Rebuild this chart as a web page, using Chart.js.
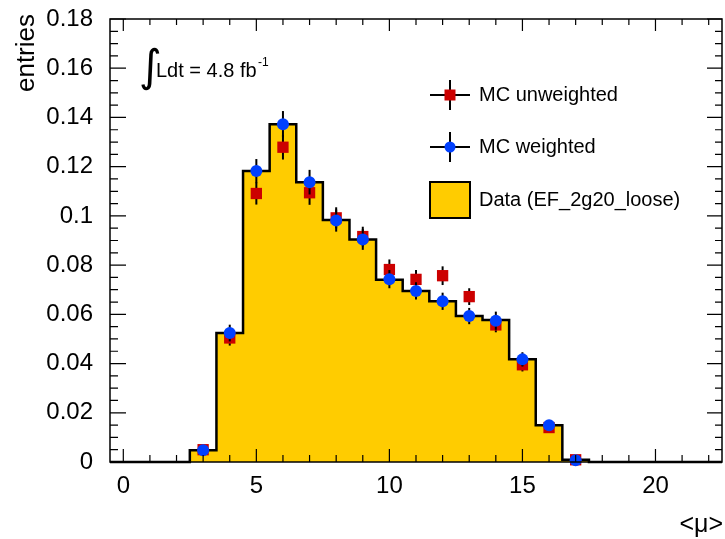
<!DOCTYPE html>
<html>
<head>
<meta charset="utf-8">
<script src="https://cdn.jsdelivr.net/npm/chart.js@4/dist/chart.umd.min.js"></script>
<style>
  body { margin: 0; background: #ffffff; }
  #plot { display: block; }
</style>
</head>
<body>
<canvas id="plot" width="725" height="539"></canvas>
<script>
// histogram bins (centres), width 1
var binCenters = [0, 1, 2, 3, 4, 5, 6, 7, 8, 9, 10, 11, 12, 13, 14, 15, 16, 17, 18, 19, 20, 21, 22];
var dataEntries = [0, 0, 0, 0.0048, 0.0524, 0.1182, 0.1372, 0.1137, 0.0983, 0.0904, 0.0741, 0.0695,
                   0.0653, 0.0593, 0.0577, 0.0417, 0.0149, 0.0009, 0, 0, 0, 0, 0];

// MC points
var mcCenters = [3, 4, 5, 6, 7, 8, 9, 10, 11, 12, 13, 14, 15, 16, 17];
var mcWeighted = [0.0048, 0.0524, 0.1182, 0.1372, 0.1137, 0.0981, 0.0904, 0.0743, 0.0695, 0.0653,
                  0.0593, 0.0574, 0.0417, 0.0149, 0.0007];
var mcWeightedErr = [0.0008, 0.0034, 0.0049, 0.0054, 0.0050, 0.0045, 0.0042, 0.0037, 0.0035, 0.0035,
                     0.0033, 0.0037, 0.0029, 0.0017, 0.0004];
var mcUnweighted = [0.0050, 0.0504, 0.1091, 0.1279, 0.1094, 0.0992, 0.0916, 0.0782, 0.0742, 0.0757,
                    0.0672, 0.0557, 0.0395, 0.0140, 0.0009];
var mcUnweightedErr = [0.0008, 0.0031, 0.0045, 0.0050, 0.0049, 0.0043, 0.0040, 0.0041, 0.0038, 0.0038,
                       0.0034, 0.0030, 0.0027, 0.0016, 0.0004];

var xTickValues = [0, 5, 10, 15, 20];
var legendLabels = ['MC unweighted', 'MC weighted', 'Data (EF_2g20_loose)'];

var FONT = '"Liberation Sans", Arial, Helvetica, sans-serif';
var RED = '#cc0000';
var BLUE = '#0040ff';
var YELLOW = '#ffcc00';

function histOutline(centers, values)
{
  var pts = [];
  for (var i = 0; i < centers.length; i++) {
    pts.push({x: centers[i] - 0.5, y: values[i]});
  }
  var last = centers.length - 1;
  pts.push({x: centers[last] + 0.5, y: values[last]});
  return pts;
}

function points(centers, values)
{
  return centers.map(function(c, i) { return {x: c, y: values[i]}; });
}

var errorBars = {
  id: 'errorBars',
  beforeDatasetDraw: function(chart, args) {
    var ds = chart.data.datasets[args.index];
    if (!ds.errors) return;
    var ctx = chart.ctx;
    var y = chart.scales.y;
    ctx.save();
    ctx.strokeStyle = '#000';
    ctx.lineWidth = 2;
    args.meta.data.forEach(function(pt, i) {
      var v = ds.data[i].y;
      ctx.beginPath();
      ctx.moveTo(pt.x, y.getPixelForValue(v + ds.errors[i]));
      ctx.lineTo(pt.x, y.getPixelForValue(v - ds.errors[i]));
      ctx.stroke();
    });
    ctx.restore();
  }
};

var frameTicks = {
  id: 'frameTicks',
  afterDatasetsDraw: function(chart) {
    var ctx = chart.ctx;
    var a = chart.chartArea;
    var xs = chart.scales.x, ys = chart.scales.y;
    ctx.save();
    ctx.strokeStyle = '#000';
    ctx.lineWidth = 1.5;
    ctx.strokeRect(a.left, a.top, a.right - a.left, a.bottom - a.top);
    ctx.lineWidth = 1.2;
    ctx.beginPath();
    for (var t = 0; t <= 22; t++) {
      var px = xs.getPixelForValue(t);
      var major = (t % 5 === 0);
      ctx.moveTo(px, a.bottom); ctx.lineTo(px, a.bottom - (major ? 13 : 7));
      ctx.moveTo(px, a.top); ctx.lineTo(px, a.top + (major ? 12 : 6));
    }
    for (var k = 0; k <= 36; k++) {
      var py = ys.getPixelForValue(k * 0.005);
      var maj = (k % 4 === 0);
      ctx.moveTo(a.left, py); ctx.lineTo(a.left + (maj ? 16 : 8), py);
      ctx.moveTo(a.right, py); ctx.lineTo(a.right - (maj ? 15 : 7), py);
    }
    ctx.stroke();
    ctx.restore();
  }
};

var labels = {
  id: 'labels',
  afterDraw: function(chart) {
    var ctx = chart.ctx;
    ctx.save();
    ctx.fillStyle = '#000';
    ctx.strokeStyle = '#000';

    // axis titles
    ctx.font = '26px ' + FONT;
    ctx.save();
    ctx.translate(34, 14);
    ctx.rotate(-Math.PI / 2);
    ctx.textAlign = 'right';
    ctx.textBaseline = 'alphabetic';
    ctx.fillText('entries', 0, 0);
    ctx.restore();
    ctx.font = '25px ' + FONT;
    ctx.textAlign = 'right';
    ctx.textBaseline = 'alphabetic';
    ctx.fillText('<\u03bc>', 723, 532);

    // luminosity
    ctx.textAlign = 'left';
    ctx.font = '44px "DejaVu Sans", sans-serif';
    ctx.fillText('\u222b', 139, 81);
    ctx.font = '20px ' + FONT;
    ctx.fillText('Ldt = 4.8 fb', 156, 77);
    ctx.font = '12px ' + FONT;
    ctx.fillText('-1', 258, 66);

    // legend
    var lx = 450;
    var rows = [95, 147, 200];
    ctx.lineWidth = 2;
    [0, 1].forEach(function(r) {
      var cy = rows[r];
      ctx.beginPath();
      ctx.moveTo(lx - 20, cy); ctx.lineTo(lx + 20, cy);
      ctx.moveTo(lx, cy - 15); ctx.lineTo(lx, cy + 15);
      ctx.stroke();
    });
    ctx.fillStyle = RED;
    ctx.fillRect(lx - 5.5, rows[0] - 5.5, 11, 11);
    ctx.fillStyle = BLUE;
    ctx.beginPath();
    ctx.arc(lx, rows[1], 5.5, 0, Math.PI * 2);
    ctx.fill();
    ctx.fillStyle = YELLOW;
    ctx.fillRect(430, 182, 40, 36);
    ctx.strokeRect(430, 182, 40, 36);

    ctx.fillStyle = '#000';
    ctx.font = '20px ' + FONT;
    ctx.textBaseline = 'middle';
    legendLabels.forEach(function(txt, i) {
      ctx.fillText(txt, 479, rows[i]);
    });
    ctx.restore();
  }
};

var ctx = document.getElementById('plot');
var chart = new Chart(ctx, {
  type: 'line',
  data: {
    datasets: [
      {
        label: 'MC weighted',
        data: points(mcCenters, mcWeighted),
        errors: mcWeightedErr,
        showLine: false,
        pointStyle: 'circle',
        pointRadius: 6,
        pointBorderWidth: 0,
        pointBackgroundColor: BLUE,
        pointBorderColor: BLUE,
        clip: false
      },
      {
        label: 'MC unweighted',
        data: points(mcCenters, mcUnweighted),
        errors: mcUnweightedErr,
        showLine: false,
        pointStyle: 'rect',
        pointRadius: 8,
        pointBorderWidth: 0,
        pointBackgroundColor: RED,
        pointBorderColor: RED,
        clip: false
      },
      {
        label: 'Data (EF_2g20_loose)',
        data: histOutline(binCenters, dataEntries),
        stepped: 'before',
        borderColor: '#000',
        borderWidth: 2.5,
        backgroundColor: YELLOW,
        fill: 'origin',
        pointRadius: 0,
        clip: 3
      }
    ]
  },
  options: {
    responsive: false,
    animation: false,
    events: [],
    layout: { autoPadding: false, padding: { top: 19, right: 3, left: 0, bottom: 0 } },
    plugins: {
      legend: { display: false },
      tooltip: { enabled: false },
      title: { display: false }
    },
    scales: {
      x: {
        type: 'linear',
        min: -0.5,
        max: 22.5,
        grid: { display: true, drawOnChartArea: false, drawTicks: true, tickLength: 10, tickColor: 'rgba(0,0,0,0)' },
        border: { display: false },
        afterBuildTicks: function(scale) {
          scale.ticks = xTickValues.map(function(v) { return {value: v}; });
        },
        afterFit: function(scale) {
          scale.height = 77;
          scale.paddingLeft = 0;
          scale.paddingRight = 0;
        },
        ticks: {
          color: '#000',
          font: { family: FONT, size: 24 },
          padding: 0,
          maxRotation: 0,
          autoSkip: false
        }
      },
      y: {
        min: 0,
        max: 0.18,
        grid: { display: true, drawOnChartArea: false, drawTicks: true, tickLength: 17, tickColor: 'rgba(0,0,0,0)' },
        border: { display: false },
        afterFit: function(scale) {
          scale.width = 110;
          scale.paddingTop = 0;
          scale.paddingBottom = 0;
        },
        ticks: {
          stepSize: 0.02,
          color: '#000',
          font: { family: FONT, size: 24 },
          padding: 0,
          callback: function(v) { return String(Number(v.toFixed(2))); }
        }
      }
    }
  },
  plugins: [errorBars, frameTicks, labels]
});
</script>
</body>
</html>
